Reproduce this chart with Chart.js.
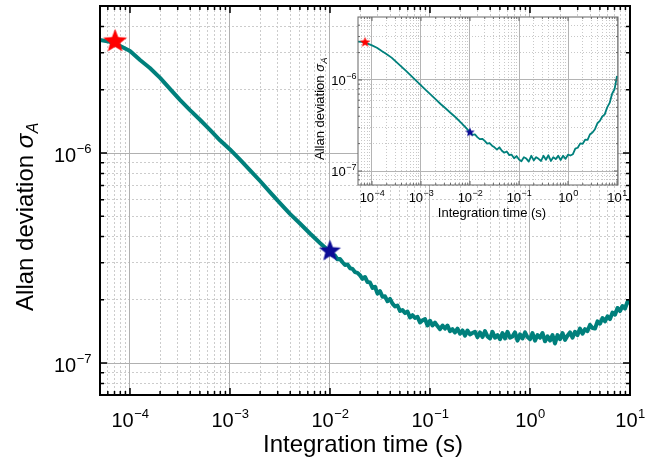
<!DOCTYPE html>
<html>
<head>
<meta charset="utf-8">
<script src="https://cdn.jsdelivr.net/npm/chart.js@4.4.0/dist/chart.umd.min.js"></script>
<style>
  body { margin: 0; background: #fff; }
  #wrap { position: relative; width: 665px; height: 464px; }
  canvas { position: absolute; left: 0; top: 0; }
</style>
</head>
<body>
<div id="wrap">
  <canvas id="main" width="665" height="464"></canvas>
  <canvas id="inset" width="665" height="464"></canvas>
</div>
<script>
// integration time (s) for the main curve
const tauMain = [
  5.0e-5, 6.3e-5, 7.9e-5, 1.0e-4, 1.26e-4, 1.58e-4, 2.0e-4, 2.51e-4, 3.16e-4, 3.98e-4,
  5.01e-4, 6.31e-4, 7.94e-4, 1.0e-3, 1.26e-3, 1.58e-3, 2.0e-3, 2.51e-3, 3.16e-3, 3.98e-3,
  5.01e-3, 6.31e-3, 7.94e-3,
  1.000e-2, 1.059e-2, 1.122e-2, 1.189e-2, 1.259e-2, 1.334e-2, 1.413e-2, 1.496e-2, 1.585e-2, 1.679e-2,
  1.778e-2, 1.884e-2, 1.995e-2, 2.113e-2, 2.239e-2, 2.371e-2, 2.512e-2, 2.661e-2, 2.818e-2, 2.985e-2,
  3.162e-2, 3.350e-2, 3.548e-2, 3.758e-2, 3.981e-2, 4.217e-2, 4.467e-2, 4.732e-2, 5.012e-2, 5.309e-2,
  5.623e-2, 5.957e-2, 6.310e-2, 6.683e-2, 7.079e-2, 7.499e-2, 7.943e-2, 8.414e-2, 8.913e-2, 9.441e-2,
  0.1000, 0.1059, 0.1122, 0.1189, 0.1259, 0.1334, 0.1413, 0.1496, 0.1585, 0.1679,
  0.1778, 0.1884, 0.1995, 0.2113, 0.2239, 0.2371, 0.2512, 0.2661, 0.2818, 0.2985,
  0.3162, 0.3350, 0.3548, 0.3758, 0.3981, 0.4217, 0.4467, 0.4732, 0.5012, 0.5309,
  0.5623, 0.5957, 0.6310, 0.6683, 0.7079, 0.7499, 0.7943, 0.8414, 0.8913, 0.9441,
  1.000, 1.059, 1.122, 1.189, 1.259, 1.334, 1.413, 1.496, 1.585, 1.679,
  1.778, 1.884, 1.995, 2.113, 2.239, 2.371, 2.512, 2.661, 2.818, 2.985,
  3.162, 3.350, 3.548, 3.758, 3.981, 4.217, 4.467, 4.732, 5.012, 5.309,
  5.623, 5.957, 6.310, 6.683, 7.079, 7.499, 7.943, 8.414, 8.913, 9.441, 10
];

// Allan deviation, main plot
const adevMain = [
  3.45e-6, 3.38e-6, 3.24e-6, 3.06e-6, 2.77e-6, 2.54e-6, 2.28e-6, 2.02e-6, 1.79e-6, 1.60e-6,
  1.44e-6, 1.29e-6, 1.15e-6, 1.04e-6, 9.31e-7, 8.30e-7, 7.36e-7, 6.52e-7, 5.78e-7, 5.13e-7,
  4.62e-7, 4.14e-7, 3.73e-7,
  3.38e-7, 3.27e-7, 3.25e-7, 3.12e-7, 3.13e-7, 3.02e-7, 2.93e-7, 2.95e-7, 2.83e-7, 2.81e-7,
  2.71e-7, 2.69e-7, 2.62e-7, 2.52e-7, 2.57e-7, 2.43e-7, 2.42e-7, 2.28e-7, 2.31e-7, 2.14e-7,
  2.20e-7, 2.07e-7, 2.08e-7, 1.97e-7, 2.02e-7, 1.92e-7, 1.86e-7, 1.88e-7, 1.77e-7, 1.79e-7,
  1.73e-7, 1.76e-7, 1.65e-7, 1.69e-7, 1.64e-7, 1.66e-7, 1.56e-7, 1.60e-7, 1.62e-7, 1.51e-7,
  1.59e-7, 1.51e-7, 1.56e-7, 1.50e-7, 1.45e-7, 1.51e-7, 1.46e-7, 1.51e-7, 1.42e-7, 1.45e-7,
  1.40e-7, 1.46e-7, 1.38e-7, 1.43e-7, 1.35e-7, 1.43e-7, 1.37e-7, 1.39e-7, 1.41e-7, 1.33e-7,
  1.40e-7, 1.33e-7, 1.42e-7, 1.34e-7, 1.31e-7, 1.41e-7, 1.32e-7, 1.36e-7, 1.30e-7, 1.39e-7,
  1.31e-7, 1.41e-7, 1.32e-7, 1.34e-7, 1.40e-7, 1.28e-7, 1.37e-7, 1.31e-7, 1.40e-7, 1.33e-7,
  1.30e-7, 1.39e-7, 1.28e-7, 1.36e-7, 1.32e-7, 1.39e-7, 1.27e-7, 1.34e-7, 1.28e-7, 1.36e-7,
  1.24e-7, 1.36e-7, 1.30e-7, 1.39e-7, 1.29e-7, 1.35e-7, 1.40e-7, 1.32e-7, 1.41e-7, 1.36e-7,
  1.46e-7, 1.38e-7, 1.45e-7, 1.42e-7, 1.52e-7, 1.47e-7, 1.46e-7, 1.58e-7, 1.54e-7, 1.64e-7,
  1.58e-7, 1.67e-7, 1.62e-7, 1.74e-7, 1.70e-7, 1.83e-7, 1.77e-7, 1.87e-7, 1.82e-7, 1.96e-7, 1.94e-7
];

// integration time (s) for the inset curve
const tauInset = [
  5.0e-5, 6.3e-5, 7.9e-5, 1.0e-4, 1.26e-4, 1.58e-4, 2.0e-4, 2.51e-4, 3.16e-4, 3.98e-4,
  5.01e-4, 6.31e-4, 7.94e-4, 1.0e-3, 1.26e-3, 1.58e-3, 2.0e-3, 2.51e-3, 3.16e-3, 3.98e-3,
  5.01e-3, 6.31e-3, 7.94e-3,
  1.0e-2, 1.12e-2, 1.26e-2, 1.41e-2, 1.58e-2, 1.78e-2, 2.0e-2, 2.24e-2, 2.51e-2, 2.82e-2,
  3.16e-2, 3.55e-2, 3.98e-2, 4.47e-2, 5.01e-2, 5.62e-2, 6.31e-2, 7.08e-2, 7.94e-2, 8.91e-2,
  0.1, 0.112, 0.126, 0.141, 0.158, 0.178, 0.2, 0.224, 0.251, 0.282,
  0.316, 0.355, 0.398, 0.447, 0.501, 0.562, 0.631, 0.708, 0.794, 0.891,
  1.0, 1.12, 1.26, 1.41, 1.58, 1.78, 2.0, 2.24, 2.51, 2.82,
  3.16, 3.55, 3.98, 4.47, 5.01, 5.62, 6.31, 7.08, 7.94, 8.91, 10
];

// Allan deviation, inset
const adevInset = [
  2.65e-6, 2.62e-6, 2.52e-6, 2.40e-6, 2.26e-6, 2.08e-6, 1.92e-6, 1.76e-6, 1.57e-6, 1.40e-6,
  1.25e-6, 1.11e-6, 9.83e-7, 8.71e-7, 7.73e-7, 6.91e-7, 6.12e-7, 5.45e-7, 4.89e-7, 4.37e-7,
  3.92e-7, 3.47e-7, 3.06e-7,
  2.67e-7, 2.50e-7, 2.53e-7, 2.36e-7, 2.24e-7, 2.26e-7, 2.14e-7, 2.00e-7, 2.03e-7, 1.90e-7,
  1.82e-7, 1.72e-7, 1.82e-7, 1.67e-7, 1.59e-7, 1.64e-7, 1.50e-7, 1.51e-7, 1.38e-7, 1.46e-7,
  1.34e-7, 1.28e-7, 1.42e-7, 1.37e-7, 1.27e-7, 1.47e-7, 1.31e-7, 1.42e-7, 1.36e-7, 1.29e-7,
  1.47e-7, 1.33e-7, 1.49e-7, 1.29e-7, 1.42e-7, 1.35e-7, 1.47e-7, 1.32e-7, 1.47e-7, 1.36e-7,
  1.51e-7, 1.48e-7, 1.53e-7, 1.76e-7, 1.80e-7, 2.01e-7, 1.99e-7, 2.21e-7, 2.20e-7, 2.54e-7,
  2.65e-7, 2.88e-7, 3.35e-7, 3.55e-7, 3.97e-7, 4.19e-7, 5.00e-7, 5.60e-7, 7.06e-7, 7.90e-7, 1.106e-6
];

// star markers (red, blue)
const starTau = [7.1e-5, 1.0e-2];
const starMain = [3.4e-6, 3.41e-7];
const starTauInset = [7.2e-5, 1.0e-2];
const starInset = [2.59e-6, 2.66e-7];

// tick labels are 10^exp
const xExps = [-4, -3, -2, -1, 0, 1];
const yExps = [-7, -6];
const xTitle = 'Integration time (s)';
const yTitle = 'Allan deviation ';

const FONT = '"Liberation Sans", Arial, Helvetica, sans-serif';
const TEAL = '#00807c';

function decades(min, max, minor) {
  const out = [];
  const ks = minor ? [2, 3, 4, 5, 6, 7, 8, 9] : [1];
  for (let e = Math.floor(Math.log10(min)); e <= Math.ceil(Math.log10(max)); e++) {
    ks.forEach(k => {
      const v = k * Math.pow(10, e);
      if (v >= min * 0.999 && v <= max * 1.001) out.push(v);
    });
  }
  return out;
}

function logAxes(r, g) {
  const mk = (pos, min, max, isMinor, horiz) => ({
    type: 'logarithmic', position: pos, min: min, max: max,
    ticks: { display: false },
    grid: { color: isMinor ? g.minorColor : g.majorColor, lineWidth: 1, drawTicks: false },
    border: { display: false, dash: isMinor ? g.dash : [] },
    afterBuildTicks: s => { s.ticks = decades(min, max, isMinor).map(v => ({ value: v })); },
    afterFit: s => { if (horiz) s.height = 0; else s.width = 0; }
  });
  return {
    xm: mk('bottom', r.xmin, r.xmax, true, true),
    ym: mk('left', r.ymin, r.ymax, true, false),
    x: mk('bottom', r.xmin, r.xmax, false, true),
    y: mk('left', r.ymin, r.ymax, false, false)
  };
}

function makeStar(r, color) {
  const c = document.createElement('canvas');
  const s = Math.ceil(2 * r + 2);
  c.width = c.height = s;
  const g = c.getContext('2d');
  g.translate(s / 2, s / 2);
  g.beginPath();
  for (let i = 0; i < 10; i++) {
    const rr = i % 2 ? r * 0.43 : r;
    const a = -Math.PI / 2 + i * Math.PI / 5;
    g.lineTo(rr * Math.cos(a), rr * Math.sin(a));
  }
  g.closePath();
  g.fillStyle = color;
  g.fill();
  return c;
}

function powLabel(ctx, e, x, y, align, fs, es, raise) {
  const sup = (e < 0 ? '\u2212' : '') + Math.abs(e);
  ctx.font = fs + 'px ' + FONT;
  const wb = ctx.measureText('10').width;
  ctx.font = es + 'px ' + FONT;
  const we = ctx.measureText(sup).width;
  const x0 = align === 'center' ? x - (wb + we) / 2 : x - wb - we;
  ctx.textAlign = 'left';
  ctx.textBaseline = 'alphabetic';
  ctx.font = fs + 'px ' + FONT;
  ctx.fillText('10', x0, y);
  ctx.font = es + 'px ' + FONT;
  ctx.fillText(sup, x0 + wb + 0.5, y - raise);
}

// frame, inward ticks, tick labels and titles
function decor(o) {
  return {
    id: 'decor',
    beforeDraw(chart) {
      if (!o.fill) return;
      const a = chart.chartArea, ctx = chart.ctx;
      ctx.save();
      ctx.fillStyle = o.fill;
      ctx.fillRect(a.left, a.top, a.right - a.left, a.bottom - a.top);
      ctx.restore();
    },
    afterDraw(chart) {
      const ctx = chart.ctx, a = chart.chartArea, sx = chart.scales.x, sy = chart.scales.y;
      ctx.save();
      ctx.strokeStyle = o.tickColor;
      ctx.lineWidth = o.tickWidth;
      ctx.beginPath();
      [[false, o.majorLen], [true, o.minorLen]].forEach(([minor, len]) => {
        decades(sx.min, sx.max, minor).forEach(v => {
          const px = sx.getPixelForValue(v);
          ctx.moveTo(px, a.bottom); ctx.lineTo(px, a.bottom - len);
          ctx.moveTo(px, a.top); ctx.lineTo(px, a.top + len);
        });
        decades(sy.min, sy.max, minor).forEach(v => {
          const py = sy.getPixelForValue(v);
          ctx.moveTo(a.left, py); ctx.lineTo(a.left + len, py);
          ctx.moveTo(a.right, py); ctx.lineTo(a.right - len, py);
        });
      });
      ctx.stroke();
      ctx.strokeStyle = o.frameColor;
      ctx.lineWidth = o.frameWidth;
      ctx.strokeRect(a.left, a.top, a.right - a.left, a.bottom - a.top);

      ctx.fillStyle = '#000';
      xExps.forEach(e => powLabel(ctx, e, sx.getPixelForValue(Math.pow(10, e)), o.xLabelY, 'center', o.fs, o.es, o.raise));
      yExps.forEach(e => powLabel(ctx, e, o.yLabelX, sy.getPixelForValue(Math.pow(10, e)) + o.yLabelDy, 'right', o.fs, o.es, o.raise));

      ctx.font = o.titleSize + 'px ' + FONT;
      ctx.textAlign = 'center';
      ctx.fillText(xTitle, (a.left + a.right) / 2 + o.xTitleDx, o.xTitleY);

      ctx.translate(o.yTitleX, o.yTitleY);
      ctx.rotate(-Math.PI / 2);
      const f1 = o.titleSize + 'px ' + FONT;
      const f2 = 'italic ' + o.titleSize + 'px ' + FONT;
      const f3 = 'italic ' + o.subSize + 'px ' + FONT;
      ctx.font = f1; const w1 = ctx.measureText(yTitle).width;
      ctx.font = f2; const w2 = ctx.measureText('\u03c3').width;
      ctx.font = f3; const w3 = ctx.measureText('A').width;
      const x0 = -(w1 + w2 + w3) / 2;
      ctx.textAlign = 'left';
      ctx.font = f1; ctx.fillText(yTitle, x0, 0);
      ctx.font = f2; ctx.fillText('\u03c3', x0 + w1, 0);
      ctx.font = f3; ctx.fillText('A', x0 + w1 + w2 + 0.5, o.subDrop);
      ctx.restore();
    }
  };
}

function pts(xs, ys) { return xs.map((t, i) => ({ x: t, y: ys[i] })); }

function build(id, cfg) {
  const stars = [makeStar(cfg.starR[0], '#ff0000'), makeStar(cfg.starR[1], '#0c0c96')];
  return new Chart(document.getElementById(id), {
    type: 'line',
    data: {
      datasets: [
        {
          data: pts(cfg.starX, cfg.starY),
          showLine: false,
          pointRadius: 2,
          pointBorderWidth: 0,
          pointStyle: c => stars[c.dataIndex]
        },
        {
          data: pts(cfg.tau, cfg.adev),
          borderColor: TEAL,
          borderWidth: cfg.lineWidth,
          borderJoinStyle: 'round',
          pointRadius: 0,
          tension: 0
        }
      ]
    },
    options: {
      responsive: false,
      animation: false,
      devicePixelRatio: 1,
      events: [],
      layout: { autoPadding: false, padding: cfg.padding },
      scales: logAxes(cfg.range, cfg.grid),
      plugins: { legend: { display: false }, tooltip: { enabled: false } }
    },
    plugins: [decor(cfg.decor)]
  });
}

build('main', {
  tau: tauMain, adev: adevMain, starX: starTau, starY: starMain, starR: [12.5, 11.5], lineWidth: 4,
  padding: { left: 100, right: 35, top: 6, bottom: 69 },
  range: { xmin: 5.012e-5, xmax: 10, ymin: 7.05e-8, ymax: 5.01e-6 },
  grid: { majorColor: '#b0b0b0', minorColor: '#cccccc', dash: [2, 2] },
  decor: {
    fill: null, tickColor: '#000', tickWidth: 1.5, majorLen: 7, minorLen: 4,
    frameColor: '#000', frameWidth: 2,
    fs: 20, es: 13, raise: 9.5, xLabelY: 427, yLabelX: 91, yLabelDy: 9,
    titleSize: 24, subSize: 16, subDrop: 5,
    xTitleY: 452, xTitleDx: -2, yTitleX: 33, yTitleY: 217
  }
});

build('inset', {
  tau: tauInset, adev: adevInset, starX: starTauInset, starY: starInset, starR: [5.5, 5], lineWidth: 1.8,
  padding: { left: 358, right: 47, top: 17, bottom: 279 },
  range: { xmin: 5.18e-5, xmax: 10.48, ymin: 7.02e-8, ymax: 4.92e-6 },
  grid: { majorColor: '#b4b4b4', minorColor: '#c8c8c8', dash: [1, 2] },
  decor: {
    fill: '#fff', tickColor: '#666', tickWidth: 1, majorLen: 4, minorLen: 2,
    frameColor: '#666', frameWidth: 1,
    fs: 13, es: 9, raise: 6, xLabelY: 202, yLabelX: 356, yLabelDy: 5,
    titleSize: 13, subSize: 9, subDrop: 3,
    xTitleY: 217, xTitleDx: 4, yTitleX: 324, yTitleY: 109
  }
});
</script>
</body>
</html>
